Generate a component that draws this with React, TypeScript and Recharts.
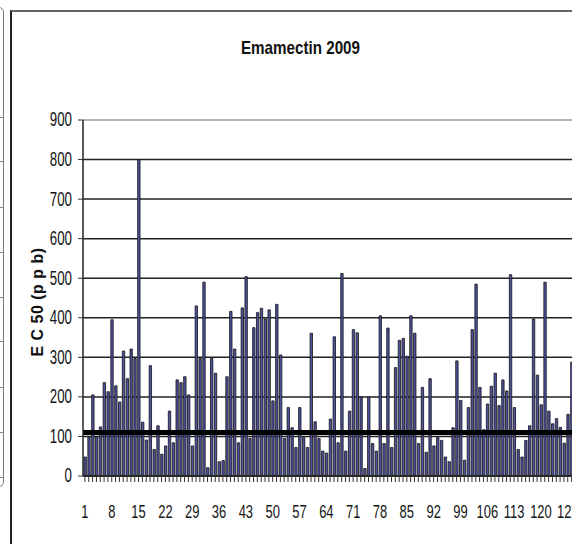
import React from 'react';
import { BarChart, Bar, XAxis, YAxis, CartesianGrid, ReferenceLine } from 'recharts';

// EC50 (ppb) per sample, in sample order
const ec50 = [
  48, 99, 205, 99, 124, 236, 213, 395, 228, 187,
  316, 246, 321, 297, 800, 136, 91, 279, 67, 127,
  55, 76, 164, 84, 243, 236, 251, 205, 76, 430,
  297, 490, 21, 297, 260, 36, 39, 251, 416, 321,
  84, 425, 504, 95, 375, 413, 424, 397, 420, 190,
  434, 306, 95, 173, 122, 72, 173, 97, 72, 361,
  137, 95, 63, 58, 144, 352, 84, 512, 63, 164,
  370, 362, 200, 19, 200, 82, 63, 405, 82, 374,
  72, 274, 343, 348, 303, 405, 361, 82, 224, 60,
  246, 76, 97, 90, 48, 36, 122, 291, 191, 40,
  173, 370, 485, 224, 117, 182, 227, 260, 178, 243,
  215, 509, 173, 67, 48, 90, 127, 397, 255, 180,
  490, 164, 132, 145, 123, 83, 156, 288, 210, 95,
  330,
];

const samples = ec50.map((_, i) => String(i + 1));

// sample numbers printed under the axis
const shownSamples = [
  '1', '8', '15', '22', '29', '36', '43', '50', '57', '64',
  '71', '78', '85', '92', '99', '106', '113', '120', '127',
];

const yTicks = [0, 100, 200, 300, 400, 500, 600, 700, 800, 900];

// resistance threshold drawn across the plot
const threshold = 110;

const data = samples.map((s, i) => ({ sample: s, ec50: ec50[i] }));

const FONT = "'Liberation Sans', Arial, Helvetica, sans-serif";

function YTick(props: any) {
  const { x, y, payload } = props;
  return (
    <text
      x={0}
      y={0}
      transform={`translate(${x},${y}) scale(0.7,1.05)`}
      textAnchor="end"
      dominantBaseline="central"
      fontSize={19}
      fontFamily={FONT}
      fill="#151515"
    >
      {payload.value}
    </text>
  );
}

function XTick(props: any) {
  const { x, payload } = props;
  if (!shownSamples.includes(String(payload.value))) return <g />;
  return (
    <text
      x={0}
      y={0}
      transform={`translate(${x},511) scale(0.72,1.05)`}
      textAnchor="middle"
      dominantBaseline="central"
      fontSize={18}
      fontFamily={FONT}
      fill="#151515"
    >
      {payload.value}
    </text>
  );
}

const stubs = [117, 161, 207, 252, 297, 341, 387, 432, 477];

export default function App() {
  return (
    <div
      style={{
        position: 'absolute',
        left: 0,
        top: 0,
        width: 572,
        height: 544,
        overflow: 'hidden',
        background: '#fff',
      }}
    >
      {/* edge of the neighbouring chart */}
      <div
        style={{
          position: 'absolute',
          left: -30,
          top: 7,
          width: 32,
          height: 478,
          border: '1px solid #777',
          borderRadius: 5,
        }}
      />
      {stubs.map((y) => (
        <div
          key={y}
          style={{ position: 'absolute', left: 0, top: y, width: 3, height: 1, background: '#888' }}
        />
      ))}

      {/* chart frame */}
      <div
        style={{
          position: 'absolute',
          left: 10,
          top: 10,
          width: 700,
          height: 700,
          borderLeft: '2px solid #222',
          borderTop: '2px solid #666',
        }}
      />

      <div
        style={{
          position: 'absolute',
          left: 0,
          top: 37,
          width: 600,
          textAlign: 'center',
          lineHeight: '22px',
        }}
      >
        <span
          style={{
            display: 'inline-block',
            transform: 'scaleX(0.8)',
            fontFamily: FONT,
            fontWeight: 'bold',
            fontSize: 19,
            color: '#111',
          }}
        >
          Emamectin 2009
        </span>
      </div>

      <div
        style={{
          position: 'absolute',
          left: 38,
          top: 302,
          transform: 'translate(-50%, -50%) rotate(-90deg)',
          whiteSpace: 'nowrap',
          fontFamily: FONT,
          fontWeight: 'bold',
          fontSize: 16,
          letterSpacing: 0.5,
          color: '#111',
        }}
      >
        E C 50 (p p b)
      </div>

      <div style={{ position: 'absolute', left: 0, top: 0 }}>
        <BarChart
          width={600}
          height={544}
          data={data}
          margin={{ top: 120, right: 15, bottom: 28, left: 0 }}
        >
          <CartesianGrid vertical={false} stroke="#222" strokeWidth={1.5} />
          <XAxis
            dataKey="sample"
            interval={0}
            tickSize={6}
            tickLine={{ stroke: '#333' }}
            axisLine={{ stroke: '#222', strokeWidth: 1.5 }}
            height={40}
            tick={(p: any) => <XTick {...p} />}
          />
          <YAxis
            type="number"
            domain={[0, 900]}
            ticks={yTicks}
            interval={0}
            width={83}
            tickSize={5}
            tickMargin={6}
            tickLine={{ stroke: '#333' }}
            axisLine={{ stroke: '#222', strokeWidth: 1.5 }}
            tick={(p: any) => <YTick {...p} />}
          />
          <Bar
            dataKey="ec50"
            fill="#4f529f"
            stroke="#111"
            strokeWidth={0.8}
            barSize={2.4}
            isAnimationActive={false}
          />
          <ReferenceLine y={900} stroke="#b5b5b5" strokeWidth={2} />
          <ReferenceLine y={threshold} stroke="#000" strokeWidth={5} />
        </BarChart>
      </div>
    </div>
  );
}
